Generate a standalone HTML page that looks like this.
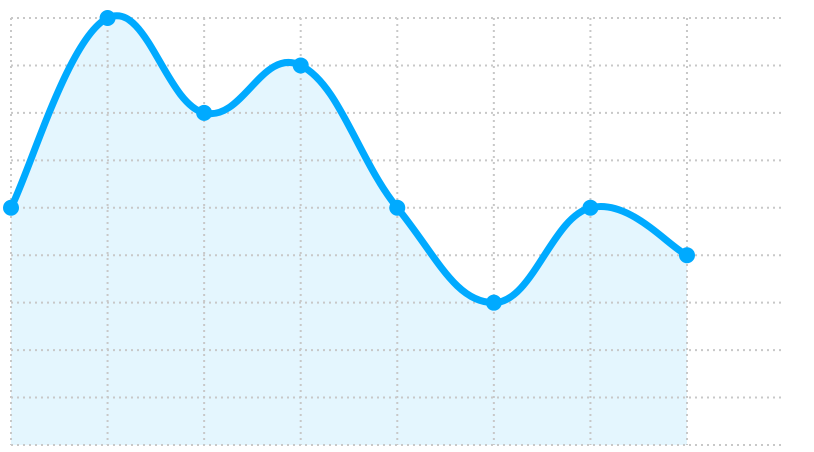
<!DOCTYPE html>
<html><head><meta charset="utf-8"><style>html,body{margin:0;padding:0;background:#fff;width:814px;height:452px;overflow:hidden}</style></head>
<body>
<svg id="chart" width="814" height="452" xmlns="http://www.w3.org/2000/svg"></svg>
<script>
const categories = ["1","2","3","4","5","6","7","8"];
const values = [5, 9, 7, 8, 5, 3, 5, 4];
const yTicks = [0,1,2,3,4,5,6,7,8,9];
const NS = "http://www.w3.org/2000/svg";
const svg = document.getElementById("chart");
const x0 = 11, dx = 96.57, gridRight = 783;
const yTop = 18, yBot = 445, yMax = 9;
const xs = i => x0 + i * dx;
const ys = v => yBot - (v / yMax) * (yBot - yTop);
function mk(tag, attrs){const e=document.createElementNS(NS,tag);for(const k in attrs)e.setAttribute(k,attrs[k]);svg.appendChild(e);return e;}
// area + line path (cardinal spline)
const pts = values.map((v,i)=>[xs(i), ys(v)]);
let d = `M${pts[0][0]},${pts[0][1]}`;
const t = 0.4;
for(let i=0;i<pts.length-1;i++){
  const p0=pts[Math.max(0,i-1)],p1=pts[i],p2=pts[i+1],p3=pts[Math.min(pts.length-1,i+2)];
  const c1=[p1[0]+(p2[0]-p0[0])*t/2,p1[1]+(p2[1]-p0[1])*t/2];
  const c2=[p2[0]-(p3[0]-p1[0])*t/2,p2[1]-(p3[1]-p1[1])*t/2];
  d+=` C${c1[0]},${c1[1]} ${c2[0]},${c2[1]} ${p2[0]},${p2[1]}`;
}
const area = mk("path",{d:d+` L${pts[pts.length-1][0]},${yBot} L${pts[0][0]},${yBot} Z`,fill:"#e4f6fe"});


// grid
yTicks.forEach(v=>{
  const l=mk("line",{x1:x0,x2:gridRight,y1:ys(v),y2:ys(v),stroke:"#c8c8c8","stroke-width":2,"stroke-dasharray":"2,4"});
  
  
});
categories.forEach((c,i)=>{
  const l=mk("line",{x1:xs(i),x2:xs(i),y1:yTop,y2:yBot,stroke:"#c8c8c8","stroke-width":2,"stroke-dasharray":"2,4"});
  
  
});
const line = mk("path",{d:d,fill:"none",stroke:"#00aaff","stroke-width":7,"stroke-linecap":"round","stroke-linejoin":"round"});


pts.forEach((p,i)=>{
  const c=mk("circle",{cx:p[0],cy:p[1],r:8,fill:"#00aaff"});
  
  
});
</script>
</body></html>
